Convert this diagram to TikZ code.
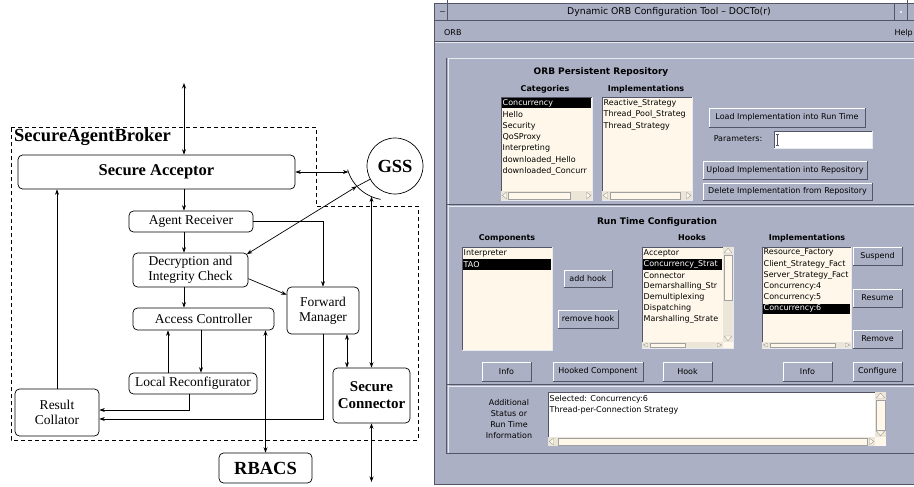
\documentclass[tikz,border=0pt]{standalone}
\usepackage{fontspec}
\setmainfont{Liberation Serif}
\newfontfamily\guifont{DejaVu Sans}
\usetikzlibrary{arrows.meta,calc}

\definecolor{guibg}{RGB}{172,176,196}
\definecolor{guilight}{RGB}{232,234,242}
\definecolor{guidark}{RGB}{84,86,104}
\definecolor{listbg}{RGB}{255,248,234}
\definecolor{troughc}{RGB}{236,230,216}
\definecolor{scrolledge}{RGB}{160,160,160}

% raised push button: name, x1, y1, x2, y2, label
\newcommand\guibtn[6]{%
  \fill[guibg] (#2,#3) rectangle (#4,#5);
  \draw[guidark,line width=0.8pt] (#2,#5) -- (#4,#5) -- (#4,#3);
  \draw[white,line width=0.8pt] (#2,#5) -- (#2,#3) -- (#4,#3);
  \node[gtxt] (#1) at ({(#2+#4)/2},{(#3+#5)/2}) {#6};}

% sunken list or text area: fill, x1, y1, x2, y2
\newcommand\guilist[5]{%
  \fill[#1] (#2,#3) rectangle (#4,#5);
  \draw[guidark,line width=0.6pt] (#2,#5) -- (#2,#3) -- (#4,#3);
  \draw[guilight,line width=0.6pt] (#2,#5) -- (#4,#5) -- (#4,#3);}

% horizontal scroll bar: x1, y1, x2, y2, thumb x1, thumb x2
\newcommand\hscrollbar[6]{%
  \fill[troughc] (#1,#2) rectangle (#3,#4);
  \draw[scrolledge,line width=0.4pt,fill=listbg] (#5,{#2+1.2}) rectangle (#6,{#4-1.2});
  \draw[scrolledge,line width=0.4pt,fill=listbg] ({#1+1.2},{(#2+#4)/2}) -- ({#1+5.5},{#2+1.2}) -- ({#1+5.5},{#4-1.2}) -- cycle;
  \draw[scrolledge,line width=0.4pt,fill=listbg] ({#3-1.2},{(#2+#4)/2}) -- ({#3-5.5},{#2+1.2}) -- ({#3-5.5},{#4-1.2}) -- cycle;}

% vertical scroll bar: x1, y1, x2, y2, thumb y1, thumb y2
\newcommand\vscrollbar[6]{%
  \fill[troughc] (#1,#2) rectangle (#3,#4);
  \draw[scrolledge,line width=0.4pt,fill=listbg] ({#1+1.2},#5) rectangle ({#3-1.2},#6);
  \draw[scrolledge,line width=0.4pt,fill=listbg] ({(#1+#3)/2},{#2+1.2}) -- ({#1+1.2},{#2+6}) -- ({#3-1.2},{#2+6}) -- cycle;
  \draw[scrolledge,line width=0.4pt,fill=listbg] ({(#1+#3)/2},{#4-1.2}) -- ({#1+1.2},{#4-6}) -- ({#3-1.2},{#4-6}) -- cycle;}

\begin{document}
\begin{tikzpicture}[x=1pt,y=-1pt,
  box/.style={draw,line width=0.7pt,rounded corners=4.5pt,inner sep=0pt,align=center,
              font=\fontsize{13.5}{15}\selectfont},
  bigbold/.style={font=\bfseries\fontsize{18.5}{20}\selectfont},
  arr/.style={line width=0.7pt,-{Stealth[length=5.5pt,width=4pt]}},
  darr/.style={line width=0.7pt,{Stealth[length=5.5pt,width=4pt]}-{Stealth[length=5.5pt,width=4pt]}},
  gtxt/.style={font=\guifont\fontsize{8}{9.5}\selectfont,inner sep=0pt},
  ghead/.style={font=\guifont\bfseries\fontsize{8}{9.5}\selectfont,inner sep=0pt},
  gtitle/.style={font=\guifont\bfseries\fontsize{9}{10.5}\selectfont,inner sep=0pt},
  item/.style={gtxt,anchor=west},
  selitem/.style={gtxt,anchor=west,text=white}]

\useasboundingbox (0,0) rectangle (914,487);
\fill[white] (0,0) rectangle (914,487);

%% ---------------- Secure agent broker architecture ----------------
\draw[line width=0.7pt,dash pattern=on 4pt off 3pt]
  (11,127) -- (316,127) -- (316,206) -- (418,206) -- (418,440) -- (11,440) -- cycle;
\node[bigbold,anchor=west,inner sep=0pt] (sab) at (14,137) {SecureAgentBroker};

\node[box,minimum width=277pt,minimum height=34pt,font=\bfseries\fontsize{16.5}{18}\selectfont]
  (acc) at (156.5,172) {Secure Acceptor};
\node[box,minimum width=124pt,minimum height=21pt] (recv) at (191,221.5) {Agent Receiver};
\node[box,minimum width=115pt,minimum height=34pt] (dec) at (190.5,270) {Decryption and\\Integrity Check};
\node[box,minimum width=141pt,minimum height=22pt] (ac) at (203.5,319) {Access Controller};
\node[box,minimum width=72pt,minimum height=47pt] (fwd) at (323,310.5) {Forward\\Manager};
\node[box,minimum width=128pt,minimum height=21pt] (lr) at (193,383.5) {Local Reconfigurator};
\node[box,minimum width=84pt,minimum height=47pt] (rc) at (57,412.5) {Result\\Collator};
\node[box,minimum width=77pt,minimum height=55pt,font=\bfseries\fontsize{15}{17}\selectfont]
  (sc) at (371.5,395.5) {Secure\\Connector};
\node[box,bigbold,minimum width=93pt,minimum height=30pt] (rb) at (265.5,468) {RBACS};
\node[draw,circle,line width=0.7pt,minimum size=56pt,inner sep=0pt,bigbold] (gss) at (395,166) {GSS};

% socket of the security service
\draw[line width=0.7pt] plot[domain=100:164,samples=30,smooth] ({388+42*cos(\x)},{158+42*sin(\x)});

\coordinate (topin) at (184,83);
\coordinate (xup) at (168,0);
\coordinate (xdown) at (201,0);
\coordinate (xfs) at (347,0);
\coordinate (lrout) at (189,394);
\coordinate (sockin) at (348.4,172);
\coordinate (sockhit) at (356.9,186.3);
\coordinate (sockbot) at (371.5,196.6);
\coordinate (scout) at (371.5,482);

\draw[darr] (topin) -- (acc.north -| topin);
\draw[arr] (acc.south -| topin) -- (recv.north -| topin);
\draw[arr] (recv.south -| topin) -- (dec.north -| topin);
\draw[arr] (dec.south -| topin) -- (ac.north -| topin);
\draw[arr] (recv.east) -| (fwd.north);
\draw[arr] ($(dec.north east)!0.75!(dec.south east)$) -- ($(fwd.north west)!0.17!(fwd.south west)$);
\draw[arr] (lr.north -| xup) -- (ac.south -| xup);
\draw[arr] (ac.south -| xdown) -- (lr.north -| xdown);
\draw[darr] (ac.south -| rb.north) -- (rb.north);
\draw[arr] (rc.north) -- (acc.south -| rc.north);
\draw[arr] (lrout) |- ($(rc.east)+(0,-2.5)$);
\draw[arr] (fwd.south) |- ($(rc.east)+(0,6.5)$);
\draw[darr] (fwd.south -| xfs) -- (sc.north -| xfs);
\draw[darr] (acc.east) -- (sockin);
\draw[darr] (sockbot) -- (sc.north);
\draw[darr] (sc.south) -- (scout);
\draw[line width=0.7pt] (gss) -- (sockhit);
\draw[darr] (sockhit) -- ($(dec.north east)+(-1.5,1.5)$);

%% ---------------- configuration tool window ----------------
\fill[guibg] (434,3) rectangle (914,485);
\draw[guidark,line width=0.8pt] (434.5,485) -- (434.5,3.5) -- (914,3.5);
\draw[guidark,line width=0.8pt] (434.5,484.5) -- (914,484.5);
% title bar
\draw[guidark,line width=0.6pt] (434.5,20.5) -- (914,20.5);
\draw[guidark,line width=0.6pt] (447.5,0.5) -- (447.5,20.5);
\draw[guidark,line width=0.6pt] (440,11.5) -- (445,11.5);
\draw[guidark,line width=0.6pt] (894.5,3.5) -- (894.5,20.5);
\draw[guidark,line width=0.6pt] (907.5,0.5) -- (907.5,20.5);
\fill[guilight] (900,11) rectangle (902,13);
\node[gtxt,font=\guifont\fontsize{9.3}{11}\selectfont] (title) at (669,12) {Dynamic ORB Configuration Tool – DOCTo(r)};
% menu bar
\node[item] (morb) at (444,33) {ORB};
\node[gtxt,anchor=east] (mhelp) at (913,33) {Help};
\draw[guidark,line width=0.6pt] (434.5,41.5) -- (914,41.5);
\draw[guilight,line width=0.6pt] (435,42.5) -- (914,42.5);
% panel frames
\draw[guidark,line width=0.8pt] (446.8,58) -- (446.8,454);
\draw[guilight,line width=0.8pt] (448.2,453) -- (448.2,58.5) -- (914,58.5);
\draw[guidark,line width=0.8pt] (447,204.8) -- (914,204.8);
\draw[guilight,line width=0.8pt] (448.2,206.2) -- (914,206.2);
\draw[guidark,line width=0.8pt] (447,384.8) -- (914,384.8);
\draw[guilight,line width=0.8pt] (448.2,386.2) -- (914,386.2);
\draw[guidark,line width=0.8pt] (447,453.5) -- (914,453.5);

% ORB persistent repository
\node[gtitle] (reptitle) at (601,72) {ORB Persistent Repository};
\node[ghead] (cathead) at (545,89) {Categories};
\node[ghead] (implhead) at (646,89) {Implementations};

\guilist{listbg}{501}{97}{592}{200}
\hscrollbar{501}{191}{592}{200}{508}{570}
\fill[black] (502,97.8) rectangle (591,108.5);
\begin{scope}
  \clip (502,97) rectangle (591,191);
  \node[selitem] (cat1) at (502.5,103.5) {Concurrency};
  \node[item] (cat2) at (502.5,114.8) {Hello};
  \node[item] (cat3) at (502.5,126.1) {Security};
  \node[item] (cat4) at (502.5,137.4) {QoSProxy};
  \node[item] (cat5) at (502.5,148.7) {Interpreting};
  \node[item] (cat6) at (502.5,160.0) {downloaded\_Hello};
  \node[item] (cat7) at (502.5,171.3) {downloaded\_Concurr};
\end{scope}

\guilist{listbg}{602}{97}{692}{200}
\hscrollbar{602}{191}{692}{200}{610}{680}
\begin{scope}
  \clip (603,97) rectangle (691,191);
  \node[item] (imp1) at (603.5,103.5) {Reactive\_Strategy};
  \node[item] (imp2) at (603.5,114.8) {Thread\_Pool\_Strateg};
  \node[item] (imp3) at (603.5,126.1) {Thread\_Strategy};
\end{scope}

\guibtn{loadbtn}{709}{108}{865}{127}{Load Implementation into Run Time}
\node[gtxt] (params) at (738,139) {Parameters:};
\guilist{white}{774}{131}{872}{148}
\draw[guidark,line width=0.5pt] (777.5,134) -- (777.5,145) (776,134) -- (779,134) (776,145) -- (779,145);
\guibtn{upbtn}{703}{161}{867}{179}{Upload Implementation into Repository}
\guibtn{delbtn}{703}{183}{872}{200}{Delete Implementation from Repository}

% run time configuration
\node[gtitle] (rttitle) at (657,222) {Run Time Configuration};
\node[ghead] (comphead) at (507,238) {Components};
\node[ghead] (hookhead) at (692,238) {Hooks};
\node[ghead] (rtimplhead) at (807,238) {Implementations};

\guilist{listbg}{462}{247}{552}{350}
\fill[black] (463,259.3) rectangle (551,270);
\node[item] (comp1) at (463.5,253) {Interpreter};
\node[selitem] (comp2) at (463.5,264.5) {TAO};

\guibtn{addhook}{564}{270}{612}{287}{add hook}
\guibtn{remhook}{558}{310}{618}{328}{remove hook}

\guilist{listbg}{642}{247}{733}{348}
\vscrollbar{723}{247}{733}{342}{255}{300}
\hscrollbar{642}{342}{723}{348}{650}{685}
\fill[listbg] (723,342) rectangle (733,348);
\fill[black] (643,259.3) rectangle (722,269.5);
\begin{scope}
  \clip (643,247) rectangle (722,342);
  \node[item] (hk1) at (643.5,253.0) {Acceptor};
  \node[selitem] (hk2) at (643.5,264.1) {Concurrency\_Strat};
  \node[item] (hk3) at (643.5,275.2) {Connector};
  \node[item] (hk4) at (643.5,286.3) {Demarshalling\_Str};
  \node[item] (hk5) at (643.5,297.4) {Demultiplexing};
  \node[item] (hk6) at (643.5,308.5) {Dispatching};
  \node[item] (hk7) at (643.5,319.6) {Marshalling\_Strate};
\end{scope}

\guilist{listbg}{762}{247}{851}{348}
\hscrollbar{762}{342}{851}{348}{770}{835}
\fill[black] (763,304) rectangle (850,313.8);
\begin{scope}
  \clip (763,247) rectangle (850,342);
  \node[item] (ri1) at (763.5,253.0) {Resource\_Factory};
  \node[item] (ri2) at (763.5,264.1) {Client\_Strategy\_Fact};
  \node[item] (ri3) at (763.5,275.2) {Server\_Strategy\_Fact};
  \node[item] (ri4) at (763.5,286.3) {Concurrency:4};
  \node[item] (ri5) at (763.5,297.4) {Concurrency:5};
  \node[selitem] (ri6) at (763.5,308.7) {Concurrency:6};
\end{scope}

\guibtn{suspend}{853}{247}{902}{265}{Suspend}
\guibtn{resume}{853}{289}{902}{307}{Resume}
\guibtn{remove}{853}{330}{902}{348}{Remove}

\guibtn{info1}{482}{362}{531}{381}{Info}
\guibtn{hooked}{553}{362}{643}{381}{Hooked Component}
\guibtn{hookbtn}{663}{362}{712}{381}{Hook}
\guibtn{info2}{783}{362}{832}{381}{Info}
\guibtn{configure}{853}{362}{902}{381}{Configure}

% status area
\node[gtxt,align=center,font=\guifont\fontsize{8}{10.8}\selectfont] (addl) at (509,419)
  {Additional\\Status or\\Run Time\\Information};
\guilist{white}{548}{392}{875}{437}
\hscrollbar{548}{437}{875}{446}{558}{867}
\vscrollbar{875}{392}{886}{437}{400}{430}
\fill[listbg] (875,437) rectangle (886,446);
\node[item] (sel1) at (549.5,399) {Selected: Concurrency:6};
\node[item] (sel2) at (549.5,410) {Thread-per-Connection Strategy};

\end{tikzpicture}
\end{document}
